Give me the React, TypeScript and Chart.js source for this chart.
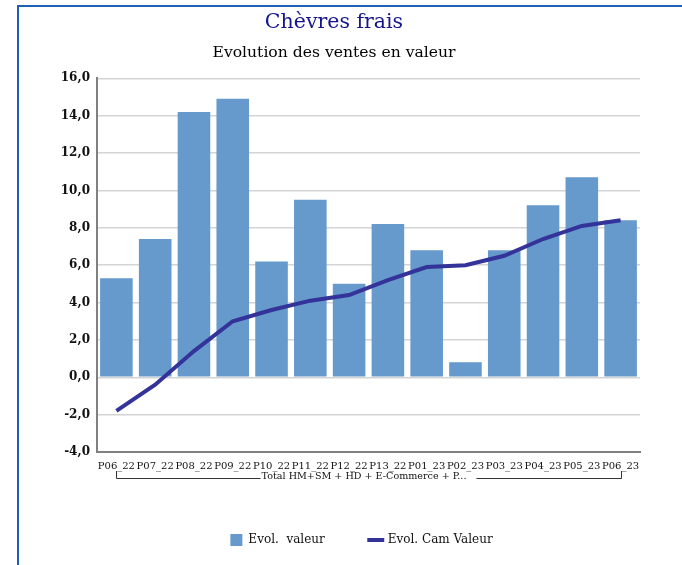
import React, { useEffect, useRef } from "react";
import { Chart, registerables } from "chart.js";

Chart.register(...registerables);

const FONT = '"DejaVu Serif", serif';

const categories = [
  "P06_22", "P07_22", "P08_22", "P09_22", "P10_22", "P11_22", "P12_22",
  "P13_22", "P01_23", "P02_23", "P03_23", "P04_23", "P05_23", "P06_23",
];
const evolValeur = [5.3, 7.4, 14.2, 14.9, 6.2, 9.5, 5.0, 8.2, 6.8, 0.8, 6.8, 9.2, 10.7, 8.4];
const evolCamValeur = [-1.8, -0.4, 1.4, 3.0, 3.6, 4.1, 4.4, 5.2, 5.9, 6.0, 6.5, 7.4, 8.1, 8.4];
const yTickValues = [-4, -2, 0, 2, 4, 6, 8, 10, 12, 14, 16];
const seriesLabels = ["Evol.  valeur", "Evol. Cam Valeur"];
const groupLabel = "Total HM+SM + HD + E-Commerce + P...";
const chartTitle = "Chèvres frais";
const chartSubtitle = "Evolution des ventes en valeur";

const BAR_COLOR = "#6699cc";
const LINE_COLOR = "#333399";
const TEXT_COLOR = "#111";

const bracketPlugin = {
  id: "groupBracket",
  afterLayout(chart: any) {
    if (chart.legend) {
      chart.legend.left -= 7;
      chart.legend.right -= 7;
    }
  },
  afterDraw(chart: any) {
    const x = chart.scales.x;
    const ctx = chart.ctx;
    const xa = Math.round(x.getPixelForValue(0)) + 0.5;
    const xb = Math.round(x.getPixelForValue(categories.length - 1)) + 0.5;
    const yTop = x.top + 19;
    const yLine = Math.round(x.top + 26) + 0.5;
    ctx.save();
    ctx.font = `9.6px ${FONT}`;
    ctx.fillStyle = TEXT_COLOR;
    ctx.textAlign = "center";
    ctx.textBaseline = "alphabetic";
    const cx = (xa + xb) / 2 - 5;
    const w = ctx.measureText(groupLabel).width;
    ctx.fillText(groupLabel, cx, yLine + 0.5);
    ctx.strokeStyle = "#333";
    ctx.lineWidth = 1;
    ctx.beginPath();
    ctx.moveTo(xa, yTop);
    ctx.lineTo(xa, yLine);
    ctx.lineTo(cx - w / 2 - 1, yLine);
    ctx.moveTo(cx + w / 2 + 10, yLine);
    ctx.lineTo(xb, yLine);
    ctx.lineTo(xb, yTop);
    ctx.stroke();
    ctx.restore();
  },
};

function ChartCanvas() {
  const ref = useRef<HTMLCanvasElement | null>(null);
  useEffect(() => {
    if (!ref.current) return;
    const chart = new Chart(ref.current, {
      type: "bar",
      data: {
        labels: categories,
        datasets: [
          {
            type: "bar",
            label: seriesLabels[0],
            data: evolValeur,
            backgroundColor: BAR_COLOR,
            borderWidth: 0,
            categoryPercentage: 1,
            barPercentage: 0.84,
            order: 1,
          } as any,
          {
            type: "line",
            label: seriesLabels[1],
            data: evolCamValeur,
            borderColor: LINE_COLOR,
            backgroundColor: LINE_COLOR,
            borderWidth: 4,
            pointRadius: 0,
            pointHoverRadius: 0,
            tension: 0,
            fill: false,
            order: 0,
          } as any,
        ],
      },
      options: {
        responsive: false,
        animation: false,
        devicePixelRatio: 1,
        layout: { padding: { left: 0, right: 14, top: 0, bottom: 9 } },
        plugins: {
          title: {
            display: true,
            text: chartTitle,
            color: "#16168c",
            font: { family: FONT, size: 20.5, weight: "normal" },
            padding: { top: 4, bottom: 4 },
          },
          subtitle: {
            display: true,
            text: chartSubtitle,
            color: "#000",
            font: { family: FONT, size: 15.6, weight: "normal" },
            padding: { top: 5, bottom: 16 },
          },
          legend: {
            display: true,
            position: "bottom",
            fullSize: false,
            labels: {
              usePointStyle: true,
              boxWidth: 12,
              boxHeight: 12,
              padding: 45,
              color: TEXT_COLOR,
              font: { family: FONT, size: 12 },
              sort: (a: any, b: any) => a.datasetIndex - b.datasetIndex,
              generateLabels: (chart: any) => {
                const items = Chart.defaults.plugins.legend.labels.generateLabels(chart);
                return items.map((it: any) => {
                  if (it.datasetIndex === 1) {
                    return { ...it, pointStyle: "line", lineWidth: 4, strokeStyle: LINE_COLOR, fillStyle: LINE_COLOR };
                  }
                  return { ...it, pointStyle: "rect", lineWidth: 0, strokeStyle: BAR_COLOR, fillStyle: BAR_COLOR };
                });
              },
            },
          },
          tooltip: { enabled: false },
        },
        scales: {
          x: {
            type: "category",
            afterFit: (s: any) => { s.height = 37; },
            grid: { display: false, drawTicks: false },
            border: { display: true, color: "#808080", width: 2 },
            ticks: {
              autoSkip: false,
              maxRotation: 0,
              minRotation: 0,
              padding: 8,
              color: TEXT_COLOR,
              font: { family: FONT, size: 10 },
            },
          },
          y: {
            min: -4,
            max: 16,
            afterFit: (s: any) => { s.width = 69; },
            afterBuildTicks: (s: any) => { s.ticks = yTickValues.map((v) => ({ value: v })); },
            grid: { color: "#d4d4d4", lineWidth: 1.5, drawTicks: false },
            border: { display: true, color: "#808080", width: 2 },
            ticks: {
              padding: 7,
              color: TEXT_COLOR,
              font: { family: FONT, size: 12, weight: "bold" },
              callback: (v: any) => Number(v).toFixed(1).replace(".", ","),
            },
          },
        },
      } as any,
      plugins: [bracketPlugin],
    });
    return () => chart.destroy();
  }, []);
  return (
    <canvas
      ref={ref}
      width={626}
      height={559}
      style={{ position: "absolute", left: 28, top: 6, width: 626, height: 559 }}
    />
  );
}

export default function App() {
  return (
    <div style={{ position: "absolute", left: 0, top: 0, width: 682, height: 565, overflow: "hidden", background: "#fff" }}>
      <div
        style={{
          position: "absolute",
          left: 17,
          top: 5,
          width: 720,
          height: 620,
          borderTop: "2px solid #1f5fb4",
          borderLeft: "2px solid #1f5fb4",
        }}
      />
      <ChartCanvas />
    </div>
  );
}
